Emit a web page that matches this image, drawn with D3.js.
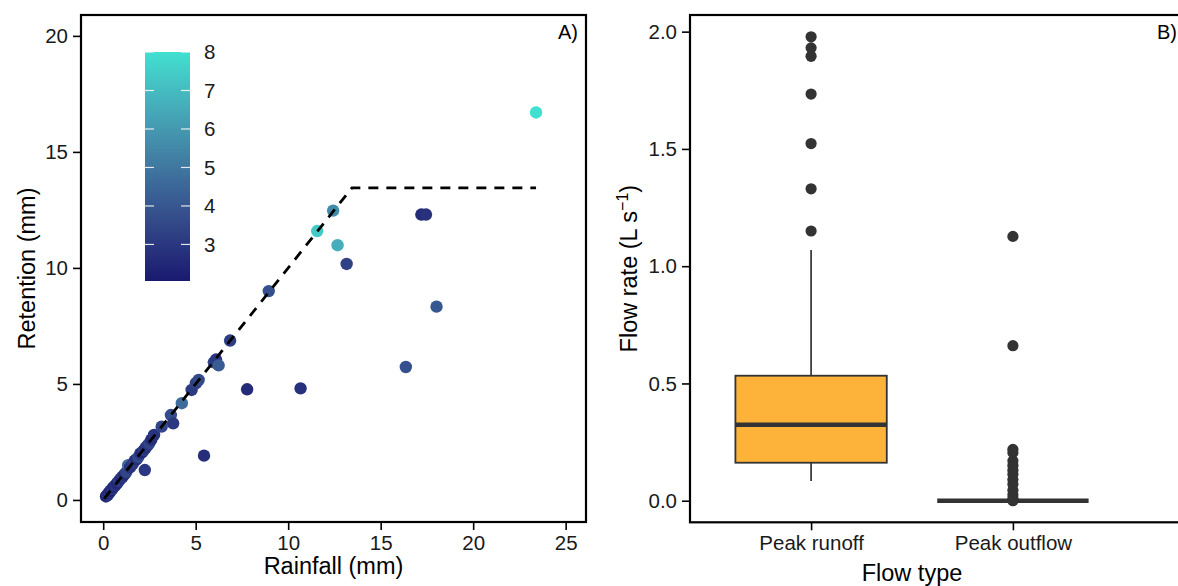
<!DOCTYPE html>
<html>
<head>
<meta charset="utf-8">
<script src="https://cdn.jsdelivr.net/npm/d3@7"></script>
<style>
  body { margin: 0; background: #fff; }
  svg { display: block; font-family: "Liberation Sans", Arial, sans-serif; }
  .tick text { fill: #1a1a1a; }
</style>
</head>
<body>
<div id="chart"></div>
<script>
// Panel A: rainfall vs retention, coloured by a third variable
let rainfall = [0.15, 0.2, 0.25, 0.3, 0.35, 0.4, 0.5, 0.55, 0.65, 0.75, 0.85, 0.95, 1.05, 1.15, 1.25, 1.35, 1.45,
  1.6, 1.7, 1.8, 1.9, 2.0, 2.1, 2.2, 2.3, 2.4, 2.5, 2.6, 2.75, 2.25, 3.16, 3.66, 3.78, 4.25, 4.78, 5.01, 5.16,
  5.98, 6.1, 6.24, 6.86, 5.45, 7.78, 8.95, 10.67, 11.57, 12.43, 12.67, 13.16, 16.36, 17.2, 17.45, 18.02, 23.4];
let retention = [0.15, 0.2, 0.22, 0.3, 0.33, 0.4, 0.48, 0.55, 0.62, 0.72, 0.82, 0.92, 1.0, 1.1, 1.2, 1.5, 1.4,
  1.55, 1.7, 1.75, 1.85, 2.0, 2.05, 2.15, 2.25, 2.35, 2.45, 2.6, 2.8, 1.29, 3.16, 3.66, 3.3, 4.17, 4.74, 5.03, 5.17,
  5.93, 6.05, 5.8, 6.87, 1.91, 4.77, 9.0, 4.81, 11.59, 12.47, 10.98, 10.17, 5.73, 12.3, 12.3, 8.33, 16.7];
let colourValue = [2.6, 2.4, 3.0, 2.5, 2.8, 2.4, 3.1, 2.6, 2.9, 2.5, 3.2, 2.7, 3.0, 2.6, 3.4, 4.6, 2.8,
  3.0, 3.3, 2.7, 3.6, 3.0, 2.6, 3.2, 2.8, 3.0, 3.4, 2.7, 2.9, 3.0, 3.4, 3.7, 3.0, 4.7, 3.1, 3.3, 3.6,
  3.4, 3.0, 4.2, 3.2, 2.7, 2.6, 3.8, 2.8, 7.4, 5.6, 6.6, 3.3, 3.8, 2.6, 2.8, 4.0, 8.0];
let capacityX = [0.05, 13.45, 23.4];
let capacityY = [0.05, 13.45, 13.45];
let colourLimits = [2.05, 8];
let colourTicks = [3, 4, 5, 6, 7, 8];
let xTicksA = [0, 5, 10, 15, 20, 25];
let yTicksA = [0, 5, 10, 15, 20];

// Panel B: boxplot of flow rates
let flowTypes = ["Peak runoff", "Peak outflow"];
// [lower whisker, q1, median, q3, upper whisker]
let boxStats = [[0.084, 0.162, 0.324, 0.533, 1.069], [0, 0, 0, 0, 0]];
let outliers = [
  [1.15, 1.33, 1.523, 1.734, 1.895, 1.931, 1.978],
  [1.127, 0.661, 0.219, 0.205, 0.17, 0.15, 0.13, 0.113, 0.09, 0.07, 0.045, 0.025, 0.01, 0]
];
let yTicksB = [0, 0.5, 1, 1.5, 2];

let width = 1178;
let height = 586;

let svg = d3.select("#chart").append("svg")
  .attr("width", width)
  .attr("height", height);

let tickSize = 20.5;
let titleSize = 23.5;

function styleAxis(g) {
  g.select(".domain").remove();
  g.selectAll(".tick line").attr("stroke", "#000").attr("stroke-width", 1.6);
  g.selectAll(".tick text").attr("font-size", tickSize).attr("font-family", "Liberation Sans, Arial, sans-serif");
}

/* ---------- Panel A ---------- */
let a = { left: 81, right: 586, top: 15, bottom: 522 };
let xA = d3.scaleLinear().domain([-1.2, 26.1]).range([a.left, a.right]);
let yA = d3.scaleLinear().domain([-0.95, 20.9]).range([a.bottom, a.top]);
let colour = d3.scaleLinear().domain(colourLimits).range(["#191970", "#40E0D0"])
  .interpolate(d3.interpolateLab).clamp(true);

let pointsA = rainfall.map((r, i) => ({ x: r, y: retention[i], c: colourValue[i] }));

svg.append("g")
  .selectAll("circle")
  .data(pointsA)
  .enter().append("circle")
  .attr("cx", d => xA(d.x))
  .attr("cy", d => yA(d.y))
  .attr("r", 6.2)
  .attr("fill", d => colour(d.c));

let capLine = d3.line().x(d => xA(d[0])).y(d => yA(d[1]));
svg.append("path")
  .datum(capacityX.map((v, i) => [v, capacityY[i]]))
  .attr("d", capLine)
  .attr("fill", "none")
  .attr("stroke", "#000")
  .attr("stroke-width", 2.8)
  .attr("stroke-dasharray", "10,8");

svg.append("rect")
  .attr("x", a.left).attr("y", a.top)
  .attr("width", a.right - a.left).attr("height", a.bottom - a.top)
  .attr("fill", "none").attr("stroke", "#000").attr("stroke-width", 2.2);

svg.append("g")
  .attr("transform", `translate(0,${a.bottom})`)
  .call(d3.axisBottom(xA).tickValues(xTicksA).tickSize(8).tickPadding(5).tickFormat(d3.format("d")))
  .call(styleAxis);

svg.append("g")
  .attr("transform", `translate(${a.left},0)`)
  .call(d3.axisLeft(yA).tickValues(yTicksA).tickSize(8).tickPadding(5).tickFormat(d3.format("d")))
  .call(styleAxis);

svg.append("text")
  .attr("x", (a.left + a.right) / 2).attr("y", 574)
  .attr("text-anchor", "middle").attr("font-size", titleSize)
  .text("Rainfall (mm)");

svg.append("text")
  .attr("transform", `translate(35,${(a.top + a.bottom) / 2}) rotate(-90)`)
  .attr("text-anchor", "middle").attr("font-size", titleSize)
  .text("Retention (mm)");

svg.append("text")
  .attr("x", 578).attr("y", 39)
  .attr("text-anchor", "end").attr("font-size", 20)
  .text("A)");

// colour bar
let bar = { x: 145, w: 45 };
let yBar = d3.scaleLinear().domain(colourLimits).range([281, 52]);
let grad = svg.append("defs").append("linearGradient")
  .attr("id", "cbar").attr("x1", 0).attr("x2", 0).attr("y1", 1).attr("y2", 0);
d3.range(0, 1.0001, 0.1).forEach(t => {
  grad.append("stop")
    .attr("offset", t)
    .attr("stop-color", colour(colourLimits[0] + t * (colourLimits[1] - colourLimits[0])));
});
svg.append("rect")
  .attr("x", bar.x).attr("y", yBar(colourLimits[1]))
  .attr("width", bar.w).attr("height", yBar(colourLimits[0]) - yBar(colourLimits[1]))
  .attr("fill", "url(#cbar)");

let cTicks = svg.append("g").selectAll("g").data(colourTicks).enter().append("g");
cTicks.append("line")
  .attr("x1", bar.x).attr("x2", bar.x + 9)
  .attr("y1", d => yBar(d)).attr("y2", d => yBar(d))
  .attr("stroke", "#fff").attr("stroke-opacity", 0.85).attr("stroke-width", 1.2);
cTicks.append("line")
  .attr("x1", bar.x + bar.w - 9).attr("x2", bar.x + bar.w)
  .attr("y1", d => yBar(d)).attr("y2", d => yBar(d))
  .attr("stroke", "#fff").attr("stroke-opacity", 0.85).attr("stroke-width", 1.2);
cTicks.append("text")
  .attr("x", 204).attr("y", d => yBar(d))
  .attr("dy", "0.36em").attr("font-size", tickSize).attr("fill", "#1a1a1a")
  .text(d => d);

/* ---------- Panel B ---------- */
let b = { left: 690, right: 1190, top: 15, bottom: 522.3 };
// discrete positions 1..n with ggplot's 0.6 expansion
let xB = d3.scaleLinear().domain([0.4, flowTypes.length + 0.6]).range([b.left, 1134]);
let yB = d3.scaleLinear().domain([-0.092, 2.071]).range([b.bottom, b.top]);
let boxWidth = 0.75;

let boxes = svg.append("g").selectAll("g")
  .data(flowTypes.map((f, i) => ({ name: f, pos: i + 1, s: boxStats[i], out: outliers[i] })))
  .enter().append("g");

boxes.append("line")
  .attr("x1", d => xB(d.pos)).attr("x2", d => xB(d.pos))
  .attr("y1", d => yB(d.s[4])).attr("y2", d => yB(d.s[3]))
  .attr("stroke", "#333").attr("stroke-width", 1.7);
boxes.append("line")
  .attr("x1", d => xB(d.pos)).attr("x2", d => xB(d.pos))
  .attr("y1", d => yB(d.s[1])).attr("y2", d => yB(d.s[0]))
  .attr("stroke", "#333").attr("stroke-width", 1.7);
boxes.append("rect")
  .attr("x", d => xB(d.pos - boxWidth / 2))
  .attr("width", d => xB(d.pos + boxWidth / 2) - xB(d.pos - boxWidth / 2))
  .attr("y", d => yB(d.s[3]))
  .attr("height", d => yB(d.s[1]) - yB(d.s[3]))
  .attr("fill", "#FDB33A").attr("stroke", "#333").attr("stroke-width", 1.8);
boxes.append("line")
  .attr("x1", d => xB(d.pos - boxWidth / 2)).attr("x2", d => xB(d.pos + boxWidth / 2))
  .attr("y1", d => yB(d.s[2])).attr("y2", d => yB(d.s[2]))
  .attr("stroke", "#333").attr("stroke-width", 4.5);
boxes.each(function(d) {
  d3.select(this).selectAll("circle")
    .data(d.out)
    .enter().append("circle")
    .attr("cx", xB(d.pos))
    .attr("cy", v => yB(v))
    .attr("r", 5.6)
    .attr("fill", "#333");
});

svg.append("rect")
  .attr("x", b.left).attr("y", b.top)
  .attr("width", b.right - b.left).attr("height", b.bottom - b.top)
  .attr("fill", "none").attr("stroke", "#000").attr("stroke-width", 2.2);

svg.append("g")
  .attr("transform", `translate(0,${b.bottom})`)
  .call(d3.axisBottom(xB).tickValues(flowTypes.map((f, i) => i + 1)).tickSize(8).tickPadding(5)
    .tickFormat(i => flowTypes[i - 1]))
  .call(styleAxis);

svg.append("g")
  .attr("transform", `translate(${b.left},0)`)
  .call(d3.axisLeft(yB).tickValues(yTicksB).tickSize(8).tickPadding(5).tickFormat(d3.format(".1f")))
  .call(styleAxis);

svg.append("text")
  .attr("x", (xB(1) + xB(flowTypes.length)) / 2).attr("y", 581)
  .attr("text-anchor", "middle").attr("font-size", titleSize)
  .text("Flow type");

let yTitleB = svg.append("text")
  .attr("transform", `translate(637,${(b.top + b.bottom) / 2}) rotate(-90)`)
  .attr("text-anchor", "middle").attr("font-size", titleSize);
yTitleB.append("tspan").text("Flow rate (L s");
yTitleB.append("tspan").attr("font-size", 16).attr("dy", -9).text("\u22121");
yTitleB.append("tspan").attr("dy", 9).text(")");

svg.append("text")
  .attr("x", 1177).attr("y", 39)
  .attr("text-anchor", "end").attr("font-size", 20)
  .text("B)");
</script>
</body>
</html>
